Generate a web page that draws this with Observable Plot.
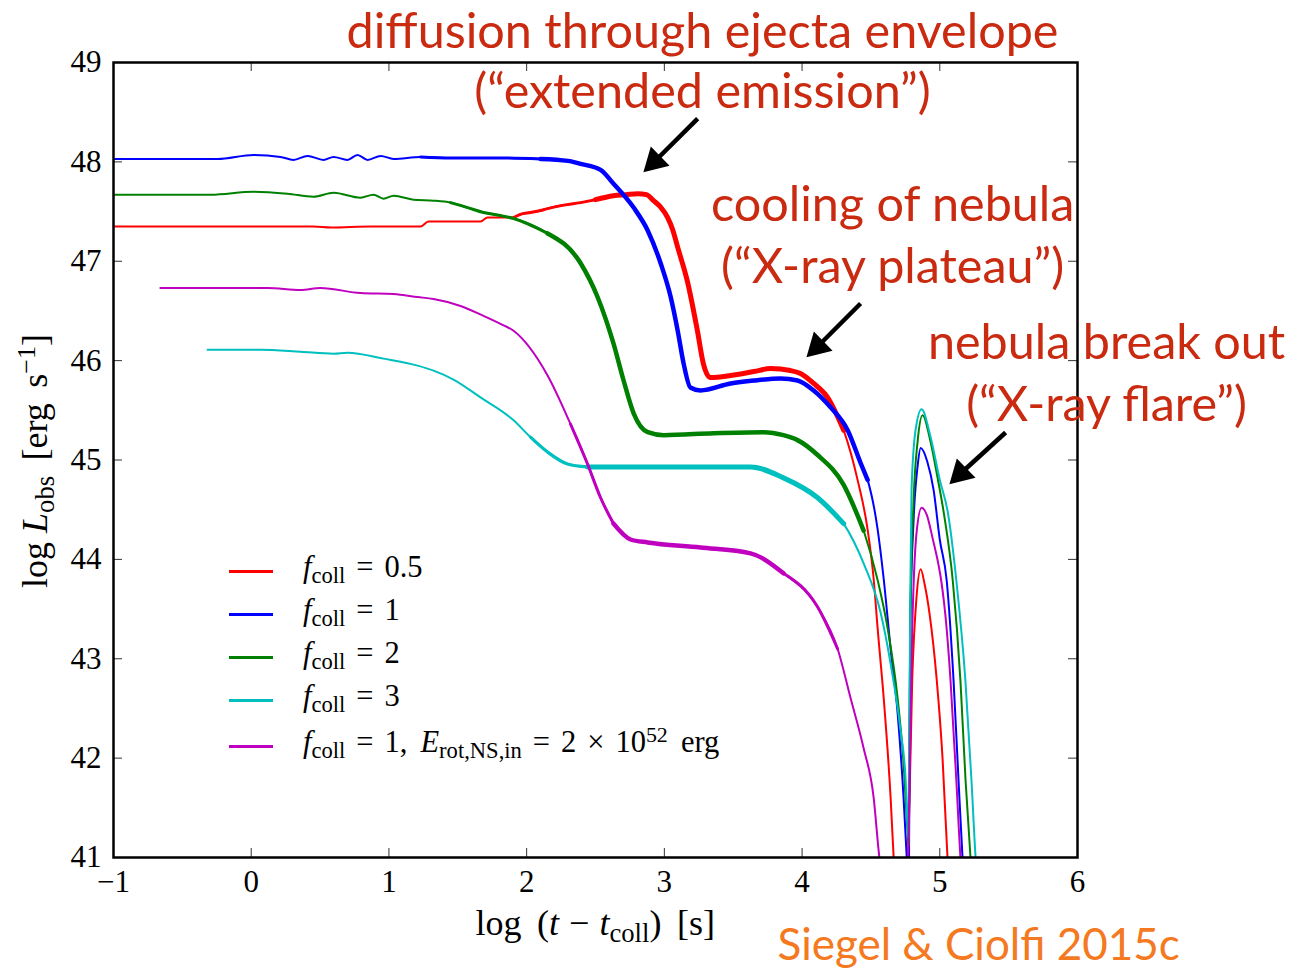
<!DOCTYPE html>
<html><head><meta charset="utf-8">
<script src="https://cdn.jsdelivr.net/npm/d3@7"></script>
<script src="https://cdn.jsdelivr.net/npm/@observablehq/plot@0.6"></script>
<style>
body{margin:0;background:#fff;}
#wrap{position:relative;width:1293px;height:972px;overflow:hidden;background:#fff;}
#wrap svg{position:absolute;left:0;top:0;}
.tex{position:absolute;font-family:"Liberation Serif","DejaVu Serif",serif;color:#000;white-space:nowrap;line-height:1;}
.tex i{font-style:italic;}
.sub{font-size:0.74em;position:relative;top:0.28em;}
.sup{font-size:0.72em;position:relative;top:-0.45em;}
.op{margin:0 0.28em;}
.lg .op{margin:0 0.36em;}
.sp{margin-left:0.18em;}
.sw{position:absolute;height:2.5px;width:44px;}
</style></head>
<body><div id="wrap"></div>
<script>
// ---- data (log t - t_coll [s], log L_obs [erg/s]) ----
const seriesNames = ["f=0.5", "f=1", "f=2", "f=3", "f=1,E=2e52"];
const seriesColors = ["#ff0000", "#0000ff", "#008000", "#00bfbf", "#bf00bf"];

const redX = [-1.0, 0.45, 0.58, 0.87, 1.23, 1.287, 1.665, 1.716, 1.905, 1.95, 2.028, 2.1, 2.152, 2.25, 2.392, 2.5, 2.631, 2.72, 2.806, 2.87, 2.922, 2.97, 3.024, 3.06, 3.097, 3.167, 3.24, 3.283, 3.334, 3.481, 3.65, 3.771, 3.916, 3.989, 4.084, 4.185, 4.302, 4.403, 4.476, 4.52, 4.549, 4.593, 4.643, 4.665, 4.72, 4.77, 4.8, 4.83, 4.861, 4.89, 4.926, 4.977, 5.02, 5.056, 5.08];
const redY = [47.35, 47.35, 47.34, 47.35, 47.35, 47.40, 47.40, 47.44, 47.44, 47.47, 47.49, 47.51, 47.53, 47.56, 47.59, 47.62, 47.66, 47.67, 47.68, 47.67, 47.61, 47.55, 47.44, 47.32, 47.14, 46.8, 46.3, 45.97, 45.83, 45.85, 45.89, 45.92, 45.9, 45.87, 45.77, 45.63, 45.3, 44.8, 44.3, 43.8, 43.3, 42.6, 41.6, 41.0, 40.0, 41.0, 42.8, 43.6, 43.9, 43.75, 43.45, 42.8, 42.0, 41.0, 40.5];

const blueX = [-1.0, -0.245, 0.017, 0.213, 0.307, 0.409, 0.525, 0.598, 0.699, 0.772, 0.845, 0.94, 1.034, 1.23, 1.447, 1.81, 2.1, 2.3, 2.392, 2.537, 2.631, 2.777, 2.879, 2.973, 3.046, 3.097, 3.14, 3.189, 3.262, 3.481, 3.65, 3.843, 3.967, 4.084, 4.207, 4.331, 4.425, 4.476, 4.549, 4.593, 4.643, 4.694, 4.737, 4.76, 4.775, 4.785, 4.81, 4.84, 4.861, 4.91, 4.955, 5.0, 5.05, 5.1, 5.136, 5.165, 5.19];
const blueY = [48.03, 48.03, 48.07, 48.05, 48.02, 48.06, 48.02, 48.05, 48.02, 48.07, 48.02, 48.06, 48.03, 48.05, 48.04, 48.04, 48.03, 48.01, 47.98, 47.92, 47.78, 47.54, 47.31, 46.98, 46.64, 46.3, 45.97, 45.73, 45.7, 45.77, 45.8, 45.82, 45.8, 45.7, 45.53, 45.3, 44.97, 44.8, 44.3, 43.8, 43.1, 42.45, 41.6, 41.0, 40.6, 43.3, 44.4, 44.95, 45.12, 44.98, 44.7, 44.2, 43.79, 42.78, 41.78, 41.0, 40.5];

const greenX = [-1.0, -0.294, 0.017, 0.264, 0.452, 0.598, 0.794, 0.888, 0.961, 1.034, 1.179, 1.324, 1.447, 1.571, 1.687, 1.81, 1.905, 2.152, 2.392, 2.515, 2.631, 2.704, 2.777, 2.879, 2.995, 3.357, 3.72, 3.865, 3.967, 4.113, 4.302, 4.447, 4.549, 4.622, 4.694, 4.737, 4.766, 4.775, 4.785, 4.81, 4.84, 4.875, 4.93, 4.98, 5.03, 5.094, 5.15, 5.187, 5.223, 5.25];
const greenY = [47.67, 47.67, 47.70, 47.68, 47.65, 47.69, 47.64, 47.67, 47.63, 47.66, 47.62, 47.61, 47.59, 47.54, 47.49, 47.46, 47.43, 47.28, 46.98, 46.64, 46.17, 45.8, 45.47, 45.28, 45.25, 45.27, 45.28, 45.25, 45.2, 45.05, 44.75, 44.29, 43.79, 43.3, 42.6, 41.95, 41.27, 41.12, 43.3, 44.6, 45.2, 45.45, 45.2, 44.85, 44.46, 43.79, 42.78, 41.78, 41.0, 40.5];

const cyanX = [-0.317, 0.068, 0.358, 0.598, 0.699, 0.961, 1.208, 1.324, 1.469, 1.665, 1.905, 2.028, 2.152, 2.297, 2.442, 3.262, 3.626, 3.865, 4.113, 4.302, 4.447, 4.571, 4.643, 4.715, 4.752, 4.766, 4.772, 4.785, 4.795, 4.824, 4.868, 4.93, 5.0, 5.06, 5.12, 5.186, 5.23, 5.26, 5.29];
const cyanY = [46.11, 46.11, 46.09, 46.07, 46.08, 46.02, 45.95, 45.9, 45.81, 45.63, 45.4, 45.23, 45.08, 44.96, 44.93, 44.93, 44.93, 44.82, 44.62, 44.36, 43.96, 43.46, 42.95, 42.28, 41.78, 41.3, 41.2, 43.5, 44.7, 45.3, 45.51, 45.25, 44.8, 44.46, 43.79, 42.78, 41.78, 41.0, 40.5];

const magX = [-0.66, 0.118, 0.358, 0.503, 0.794, 1.034, 1.208, 1.324, 1.52, 1.687, 1.81, 1.905, 2.152, 2.319, 2.442, 2.537, 2.631, 2.755, 2.879, 3.262, 3.626, 3.865, 4.113, 4.258, 4.353, 4.447, 4.52, 4.556, 4.72, 4.77, 4.8, 4.83, 4.868, 4.905, 4.95, 4.99, 5.01, 5.05, 5.078, 5.12, 5.15, 5.18];
const magY = [46.73, 46.73, 46.71, 46.73, 46.68, 46.67, 46.64, 46.62, 46.55, 46.45, 46.37, 46.3, 45.85, 45.36, 44.96, 44.62, 44.36, 44.2, 44.17, 44.12, 44.06, 43.86, 43.52, 43.1, 42.6, 42.1, 41.6, 41.07, 40.0, 41.0, 43.3, 44.25, 44.52, 44.45, 44.2, 43.95, 43.79, 43.3, 42.78, 41.78, 41.0, 40.5];

const allX = [redX, blueX, greenX, cyanX, magX];
const allY = [redY, blueY, greenY, cyanY, magY];
// x-ranges where the curves oscillate densely (drawn thicker): [from, to, width]
const thickSegs = [
  [[1.9, 2.5, 3], [2.5, 4.31, 5]],
  [[1.2, 2.1, 3], [2.1, 4.48, 4.5]],
  [[1.4, 2.16, 3], [2.15, 4.45, 4.5]],
  [[2.0, 2.45, 3.2], [2.44, 4.31, 5]],
  [[2.3, 2.64, 3], [2.63, 3.9, 4.5], [3.86, 4.26, 3]]
];

const xTicks = [-1, 0, 1, 2, 3, 4, 5, 6];
const yTicks = [41, 42, 43, 44, 45, 46, 47, 48, 49];

const legendHtml = [
  '<i>f</i><span class="sub">coll</span><span class="op">=</span>0.5',
  '<i>f</i><span class="sub">coll</span><span class="op">=</span>1',
  '<i>f</i><span class="sub">coll</span><span class="op">=</span>2',
  '<i>f</i><span class="sub">coll</span><span class="op">=</span>3',
  '<i>f</i><span class="sub">coll</span><span class="op">=</span>1,<span class="sp"></span> <i>E</i><span class="sub">rot,NS,in</span><span class="op">=</span>2<span class="op">×</span>10<span class="sup">52</span><span class="sp"></span> erg'
];

// annotations
const annText = ["diffusion through ejecta envelope", "(“extended emission”)", "cooling of nebula", "(“X-ray plateau”)", "nebula break out", "(“X-ray flare”)"];
const annX = [3.277, 3.277, 4.658, 4.658, 6.211, 6.211];
const annY = [49.30, 48.70, 47.56, 46.94, 46.17, 45.55];
const creditText = ["Siegel & Ciolfi 2015c"];
const creditX = [5.282];
const creditY = [40.115];
const arrowTailX = [3.242, 4.425, 5.478];
const arrowTailY = [48.436, 46.575, 45.277];
const arrowHeadX = [2.929, 4.113, 5.151];
const arrowHeadY = [48.004, 46.142, 44.864];

// ---- build table ----
const rows = [];
seriesNames.forEach((s, i) => {
  allX[i].forEach((x, j) => rows.push({s, i, x, y: allY[i][j]}));
});
const arrows = arrowTailX.map((x, i) => ({x1: x, y1: arrowTailY[i], x2: arrowHeadX[i], y2: arrowHeadY[i]}));

const W = 1293, H = 972;
const mL = 113, mR = 216, mT = 62, mB = 115;
const fw = W - mL - mR, fh = H - mT - mB;
const TICK = 9;

const marks = [];
seriesNames.forEach((s, i) => {
  const d = rows.filter(r => r.i === i);
  marks.push(Plot.line(d, {x: "x", y: "y", stroke: seriesColors[i], strokeWidth: 2, curve: "monotone-x", clip: true}));
  thickSegs[i].forEach(([a, b, w]) => {
    marks.push(Plot.line(d.filter(r => r.x >= a && r.x <= b), {x: "x", y: "y", stroke: seriesColors[i], strokeWidth: w, curve: "monotone-x", clip: true}));
  });
});

const fmt = d => (d < 0 ? "−" : "") + Math.abs(d);

const plot = Plot.plot({
  width: W, height: H,
  marginLeft: mL, marginRight: mR, marginTop: mT, marginBottom: mB,
  style: {fontFamily: '"Liberation Serif", serif', fontSize: "31px", background: "transparent", overflow: "visible"},
  x: {domain: [-1, 6]},
  y: {domain: [41, 49]},
  marks: [
    ...marks,
    Plot.tickX(xTicks, {x: d => d, stroke: "#333", strokeWidth: 1, insetTop: fh - TICK}),
    Plot.tickX(xTicks, {x: d => d, stroke: "#333", strokeWidth: 1, insetBottom: fh - TICK}),
    Plot.tickY(yTicks, {y: d => d, stroke: "#333", strokeWidth: 1, insetRight: fw - TICK}),
    Plot.tickY(yTicks, {y: d => d, stroke: "#333", strokeWidth: 1, insetLeft: fw - TICK}),
    Plot.frame({stroke: "#000", strokeWidth: 2.5}),
    Plot.axisX({ticks: xTicks, tickSize: 0, tickPadding: 12, label: null, tickFormat: fmt}),
    Plot.axisY({ticks: yTicks, tickSize: 0, tickPadding: 12, label: null, tickFormat: fmt}),
    Plot.link(arrows, {x1: "x1", y1: "y1", x2: "x2", y2: "y2", stroke: "#000", strokeWidth: 4.5}),
    Plot.dot(arrows, {x: "x2", y: "y2", symbol: "triangle", r: 10, fill: "#000", stroke: "none", rotate: 226}),
    Plot.text(annText, {x: (d, i) => annX[i], y: (d, i) => annY[i], text: d => d, fill: "#c92a10", fontSize: 48.5, fontFamily: "Lato, 'Open Sans', sans-serif", textAnchor: "middle", lineAnchor: "middle"}),
    Plot.text(creditText, {x: (d, i) => creditX[i], y: (d, i) => creditY[i], text: d => d, fill: "#f47920", fontSize: 44, fontFamily: "Lato, 'Open Sans', sans-serif", textAnchor: "middle", lineAnchor: "middle"})
  ]
});

const wrap = document.getElementById("wrap");
wrap.appendChild(plot);

// legend
const legY = [571, 614, 657, 700, 746];
legendHtml.forEach((h, i) => {
  const sw = document.createElement("div");
  sw.className = "sw";
  sw.style.left = "229px";
  sw.style.top = (legY[i] - 1) + "px";
  sw.style.background = seriesColors[i];
  wrap.appendChild(sw);
  const t = document.createElement("div");
  t.className = "tex lg";
  t.style.left = "303px";
  t.style.fontSize = "30.5px";
  t.style.top = (legY[i] - 19) + "px";
  t.innerHTML = h;
  wrap.appendChild(t);
});

// axis labels
const xl = document.createElement("div");
xl.className = "tex";
xl.style.fontSize = "36px";
xl.innerHTML = 'log<span class="sp"></span> (<i>t</i><span class="op">−</span><i>t</i><span class="sub">coll</span>)<span class="sp"></span> [s]';
wrap.appendChild(xl);
xl.style.left = (595 - xl.offsetWidth / 2) + "px";
xl.style.top = (925 - 20) + "px";

const yl = document.createElement("div");
yl.className = "tex";
yl.style.fontSize = "36px";
yl.innerHTML = 'log <i>L</i><span class="sub">obs</span><span class="sp"></span> [erg<span class="sp"></span> s<span class="sup">−1</span>]';
wrap.appendChild(yl);
const yw = yl.offsetWidth, yh = yl.offsetHeight;
yl.style.left = (35 - yw / 2) + "px";
yl.style.top = (461 - yh / 2) + "px";
yl.style.transform = "rotate(-90deg)";
</script>
</body></html>
